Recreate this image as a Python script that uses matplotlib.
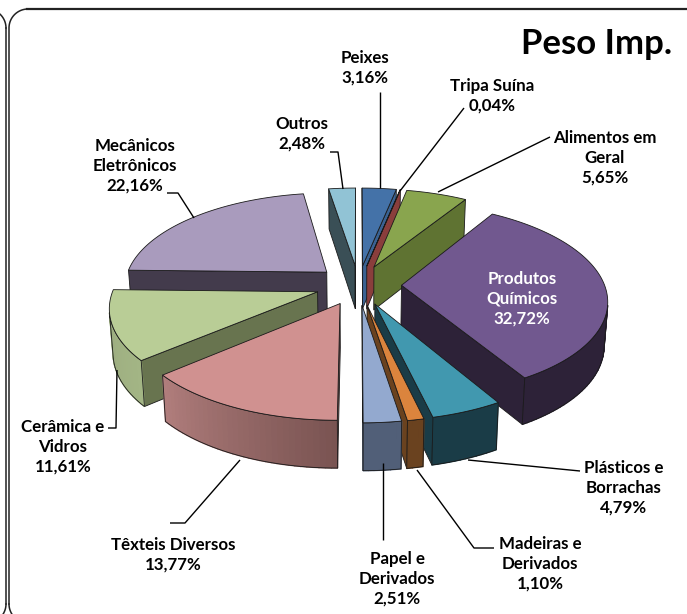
import numpy as np
import matplotlib
matplotlib.use("Agg")
import matplotlib.pyplot as plt
from matplotlib.patches import Polygon

plt.rcParams['font.family'] = ['Lato', 'DejaVu Sans']

names = ["Peixes", "Tripa Suína", "Alimentos em\nGeral", "Produtos\nQuímicos",
         "Plásticos e\nBorrachas", "Madeiras e\nDerivados", "Papel e\nDerivados",
         "Têxteis Diversos", "Cerâmica e\nVidros", "Mecânicos\nEletrônicos", "Outros"]
values = [3.16, 0.04, 5.65, 32.72, 4.79, 1.10, 2.51, 13.77, 11.61, 22.16, 2.48]
top_colors = ["#4472A8", "#8A3E3C", "#89A54E", "#71588F", "#4198AF", "#DB843D",
              "#93A9CF", "#D09190", "#B9CD96", "#A99BBD", "#91C3D5"]
cut_colors = ["#3A6292", "#8A3E3C", "#5F7332", "#2D2238", "#1A3C47", "#6A421F",
              "#515F78", "#7A5554", "#68744F", "#433B4C", "#3A4F56"]
wall_a = ["#3A6292", "#8A3E3C", "#5F7332", "#2D2238", "#1A3C47", "#6A421F",
          "#515F78", "#7A5452", "#A3B585", "#433B4C", "#3A4F56"]
wall_b = ["#3A6292", "#8A3E3C", "#5F7332", "#2D2238", "#1A3C47", "#6A421F",
          "#515F78", "#B07D7C", "#9AAA7E", "#433B4C", "#3A4F56"]
label_pos = [(365, 68), (492, 96), (605, 158), (522, 299), (624, 488), (540, 564),
             (397, 579), (173, 555), (63, 447), (135, 166), (302, 134)]
label_colors = ["black"] * 3 + ["white"] + ["black"] * 7
leaders = [
    [(380, 92), (380, 188)],
    [(464, 108), (400, 191)],
    [(550, 137), (438, 192)],
    None,
    [(580, 471), (468, 460)],
    [(494, 548), (474, 548), (417, 470)],
    [(383, 540), (383, 463)],
    [(170, 523), (185, 523), (240, 460)],
    [(108, 428), (116, 428), (117, 370)],
    [(167, 193), (178, 193), (194, 218)],
    [(330, 152), (338, 152), (343, 189)],
]

CX, CY, R, EXPL, K, P, DEPTH = 358.5, 285.0, 203.0, 43.0, 0.463, 0.000708, 43.5


def project(X, Y):
    s = 1.0 / (1.0 + P * Y)
    return CX + X * s, CY - K * Y * s, s


def top_pt(X, Y):
    x, y, _ = project(X, Y)
    return np.array([x, y])


def bot_pt(X, Y):
    x, y, s = project(X, Y)
    return np.array([CX + (x - CX) * 0.985, y + DEPTH * np.sqrt(s)])


def mix(c1, c2, t):
    a, b = np.array(matplotlib.colors.to_rgb(c1)), np.array(matplotlib.colors.to_rgb(c2))
    return tuple(a + (b - a) * t)


fig = plt.figure(figsize=(6.87, 6.14), dpi=100)
ax = fig.add_axes([0, 0, 1, 1])
ax.set_xlim(0, 687)
ax.set_ylim(614, 0)
ax.axis("off")

# panel frames
FR, FT, FB = 19.0, 9.0, 623.0
ph = np.linspace(0, np.pi / 2, 20)
fx = np.concatenate([[9.0], 9 + FR - FR * np.cos(ph), [700.0]])
fy = np.concatenate([[FB - FR], FT + FR - FR * np.sin(ph), [FT]])
ax.plot(fx, fy, color="#222222", lw=1.1, zorder=1)
ax.plot(9 + FR - FR * np.cos(ph), FB - FR + FR * np.sin(ph), color="#222222", lw=1.1, zorder=1)
ax.plot([27, 700], [FT, FT], color="#222222", lw=1.6, zorder=1)
ax.plot(6 - FR + FR * np.cos(ph), FT + FR - FR * np.sin(ph), color="#222222", lw=1.1, zorder=1)
ax.plot(6 - FR + FR * np.cos(ph), FB - FR + FR * np.sin(ph), color="#222222", lw=1.1, zorder=1)
ax.plot([6, 6], [FT + FR, FB - FR], color="#222222", lw=1.1, zorder=1)

fracs = np.array(values) / 100.0
starts = np.concatenate([[0], np.cumsum(fracs)[:-1]]) * 2 * np.pi
ends = starts + fracs * 2 * np.pi
mids = (starts + ends) / 2
order = np.argsort(-np.cos(mids))
EDGE = dict(ec="#1a1a1a", lw=0.6, joinstyle="round")


def cross(p, q, d):
    return (q - p)[0] * (d - p)[1] - (q - p)[1] * (d - p)[0]


z = 2
for i in order:
    ox, oy = EXPL * np.sin(mids[i]), EXPL * np.cos(mids[i])
    thetas = np.linspace(starts[i], ends[i], max(3, int(np.degrees(ends[i] - starts[i]) / 1.5) + 2))
    XY = [(ox + R * np.sin(t), oy + R * np.cos(t)) for t in thetas]
    tops = [top_pt(*p) for p in XY]
    bots = [bot_pt(*p) for p in XY]
    a_t, a_b = top_pt(ox, oy), bot_pt(ox, oy)

    if cross(a_t, tops[0], a_b) < 0:
        ax.add_patch(Polygon([a_t, tops[0], bots[0], a_b], fc=cut_colors[i], zorder=z, **EDGE))
    if cross(a_t, tops[-1], a_b) > 0:
        ax.add_patch(Polygon([a_t, tops[-1], bots[-1], a_b], fc=cut_colors[i], zorder=z, **EDGE))
    z += 1
    vis = []
    n = len(tops) - 1
    for j in range(n):
        if cross(tops[j], tops[j + 1], bots[j]) < 0:
            vis.append(j)
    for j in vis:
        col = mix(wall_a[i], wall_b[i], j / max(n - 1, 1))
        ax.add_patch(Polygon([tops[j], tops[j + 1], bots[j + 1], bots[j]],
                             fc=col, ec=col, lw=1.0, zorder=z))
    if vis:
        seq = [tops[j] for j in vis] + [tops[vis[-1] + 1], bots[vis[-1] + 1]] + \
              [bots[j] for j in reversed(vis)]
        ax.add_patch(Polygon(seq, fc="none", zorder=z, **EDGE))
    z += 1
    ax.add_patch(Polygon([a_t] + tops, fc=top_colors[i], zorder=z, **EDGE))
    z += 1

for path in leaders:
    if path:
        xs, ys = zip(*path)
        ax.plot(xs, ys, color="black", lw=1.0, zorder=z, solid_capstyle="butt")
z += 1

for name, v, pos, c in zip(names, values, label_pos, label_colors):
    pct = f"{v:.2f}".replace(".", ",") + "%"
    ax.text(pos[0], pos[1], f"{name}\n{pct}", ha="center", va="center", ma="center",
            fontsize=12.2, fontweight="bold", color=c, linespacing=1.3, zorder=z)

ax.text(672, 44, "Peso Imp.", ha="right", va="center", fontsize=25,
        fontweight="bold", color="black", zorder=z)

fig.savefig("out.png", dpi=100)
